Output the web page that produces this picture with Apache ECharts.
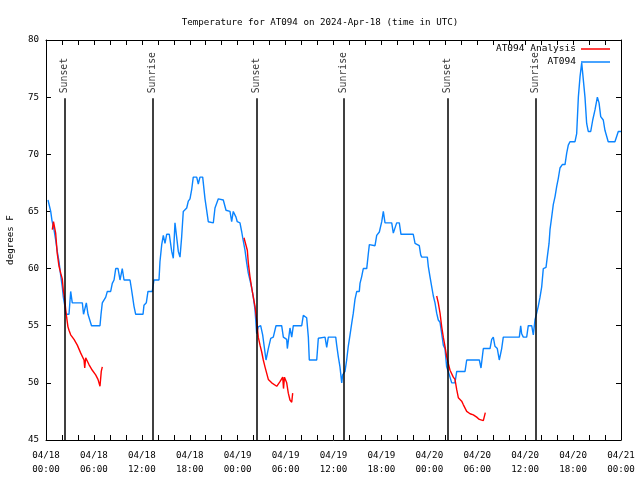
<!DOCTYPE html>
<html>
<head>
<meta charset="utf-8">
<script src="https://cdn.jsdelivr.net/npm/echarts@6/dist/echarts.min.js"></script>
<style>html,body{margin:0;padding:0;background:#fff}#c{width:640px;height:480px}</style>
</head>
<body>
<div id="c"></div>
<script>
// Hours since 2024-04-18 00:00 UTC
const obsHours = [0.25,0.59,0.75,1.00,1.21,1.41,1.63,1.84,2.04,2.17,2.34,2.47,2.69,2.88,3.09,3.29,4.55,4.70,4.88,5.05,5.26,5.45,5.70,6.76,6.89,7.05,7.48,7.68,8.10,8.30,8.52,8.73,9.02,9.27,9.55,9.77,9.98,10.52,10.68,10.81,11.02,11.23,12.15,12.27,12.56,12.77,13.31,13.52,14.15,14.27,14.49,14.69,14.90,15.11,15.44,15.74,15.94,16.15,16.37,16.57,16.78,16.99,17.19,17.62,17.82,18.03,18.24,18.44,18.87,19.07,19.28,19.62,19.91,20.12,20.32,20.95,21.16,21.58,22.20,22.54,23.04,23.25,23.45,23.79,23.95,24.29,24.51,24.63,24.92,25.13,25.33,25.54,25.76,25.96,26.17,26.38,26.58,26.88,27.13,27.55,27.84,28.14,28.46,28.80,29.51,29.72,30.14,30.22,30.55,30.77,30.97,32.02,32.22,32.43,32.64,32.85,32.97,33.90,34.10,34.31,34.94,35.15,35.35,36.28,36.40,36.60,36.81,37.03,37.15,37.44,37.65,37.85,38.07,38.28,38.48,38.69,38.91,39.23,39.32,39.53,39.73,40.16,40.36,40.49,41.20,41.41,41.74,42.04,42.24,42.45,43.29,43.49,43.70,43.91,44.24,44.45,45.99,46.21,46.74,46.92,47.05,47.75,47.87,48.08,48.30,48.50,48.71,48.92,49.12,49.34,49.55,49.75,49.96,50.17,50.37,50.59,50.80,51.21,51.43,52.47,52.68,54.26,54.47,54.76,55.60,55.81,56.01,56.22,56.51,56.76,57.06,57.26,59.27,59.44,59.56,59.77,60.19,60.39,60.82,61.02,61.23,61.44,61.64,61.86,62.07,62.27,62.61,62.77,62.99,63.11,63.32,63.52,63.74,63.95,64.15,64.36,64.65,64.99,65.20,65.40,65.61,66.24,66.45,66.66,66.87,67.08,67.28,67.49,67.70,67.90,68.21,68.46,68.75,69.04,69.25,69.46,69.78,69.99,70.40,71.24,71.66,72.00];
const obsTemps = [66.0,65.0,64.2,63.4,62.5,61.5,60.6,59.4,58.4,57.5,56.8,56.0,56.0,56.0,58.0,57.0,57.0,56.0,56.0,57.0,56.0,56.0,55.0,55.0,56.0,57.0,57.5,58.0,58.0,58.7,59.0,60.0,60.0,59.0,60.0,59.0,59.0,59.0,58.3,57.7,56.7,56.0,56.0,56.8,57.0,58.0,58.0,59.0,59.0,60.6,62.1,62.9,62.2,63.0,63.0,61.5,60.9,64.0,64.0,61.5,61.0,62.8,65.0,65.3,65.9,66.1,66.9,68.0,68.0,67.4,68.0,68.0,66.1,65.1,64.1,64.0,65.3,66.1,66.0,65.1,65.0,64.1,65.0,64.5,64.1,64.0,63.2,62.7,61.6,60.5,59.6,59.0,58.3,57.5,56.4,54.3,54.9,55.0,54.2,52.0,53.0,53.9,54.0,55.0,55.0,54.0,53.8,53.0,54.8,54.0,55.0,55.0,55.9,56.0,55.7,54.0,52.0,52.0,53.9,54.0,54.0,53.1,54.0,54.0,53.3,52.3,51.4,50.0,50.7,51.0,52.0,53.2,54.2,55.2,56.1,57.3,58.0,58.0,58.7,59.3,60.0,60.0,61.3,62.1,62.0,62.9,63.2,64.1,65.0,64.0,64.0,63.1,63.0,64.0,64.0,63.0,63.0,62.2,62.0,61.2,61.0,61.0,60.2,59.3,58.4,57.6,57.0,56.1,55.5,55.3,54.3,53.3,53.0,51.4,51.0,50.5,50.0,50.0,51.0,51.0,52.0,52.0,51.3,53.0,53.0,53.8,54.0,53.2,53.0,52.0,53.0,54.0,54.0,55.0,54.3,54.0,54.0,55.0,55.0,54.2,55.5,56.1,56.7,57.5,58.4,60.0,60.1,61.0,62.2,63.4,64.5,65.6,66.3,67.2,67.9,68.8,69.1,69.1,70.1,70.8,71.1,71.1,71.8,75.0,76.8,78.0,78.0,75.0,72.7,72.0,72.0,73.0,73.9,75.0,74.5,73.3,73.0,72.1,71.1,71.1,72.0,72.0];

const ana1Hours = [0.79,0.94,1.06,1.21,1.41,1.63,1.84,2.04,2.17,2.34,2.47,2.59,2.75,2.88,3.09,3.51,3.92,4.35,4.76,4.85,4.97,5.38,5.80,6.22,6.51,6.76,6.92,7.05];
const ana1Temps = [63.4,64.1,64.1,63.1,61.3,60.2,59.6,59.1,58.1,57.3,56.4,55.7,54.9,54.6,54.2,53.8,53.3,52.6,52.0,51.3,52.2,51.6,51.1,50.7,50.3,49.7,51.0,51.4];
const ana2Hours = [24.79,25.04,25.21,25.33,25.54,25.76,25.96,26.17,26.38,26.58,26.80,27.01,27.21,27.42,27.84,28.26,28.89,29.30,29.64,29.74,29.86,30.14,30.34,30.55,30.77,30.89];
const ana2Temps = [62.7,62.7,61.6,60.5,59.3,58.3,57.5,56.7,55.5,54.0,53.3,52.7,52.0,51.4,50.3,50.0,49.7,50.1,50.5,49.5,50.5,50.0,49.1,48.5,48.3,49.1];
const ana3Hours = [48.92,49.12,49.34,49.55,49.75,49.96,50.17,50.37,50.59,51.00,51.21,51.43,51.63,52.05,52.25,52.68,53.10,53.51,53.93,54.26,54.76,55.01];
const ana3Temps = [57.6,57.0,56.1,54.9,54.0,53.2,52.3,51.7,51.1,50.5,50.3,49.4,48.7,48.4,48.1,47.5,47.3,47.2,47.0,46.8,46.7,47.4];

const sunHours = [2.29,13.31,26.36,37.23,50.25,61.27];
const sunNames = ['Sunset','Sunrise','Sunset','Sunrise','Sunset','Sunrise'];
const sunLineTop = 74.9;
const yMin = 45, yMax = 80, yStep = 5;
const xMin = 0, xMax = 72, xStep = 2;

const FONT = "'DejaVu Sans Mono', 'Liberation Mono', monospace";
const FS = 9.2;
const zip = (a, b) => a.map((v, i) => [v, b[i]]);
const anaData = [].concat(zip(ana1Hours, ana1Temps), [[7.5, '-']], zip(ana2Hours, ana2Temps), [[31, '-']], zip(ana3Hours, ana3Temps));

function fmtX(v) {
  if (Math.round(v) % 6 !== 0) return '';
  const day = 18 + Math.floor(v / 24);
  const hr = Math.round(v) % 24;
  return '04/' + day + '\n' + String(hr).padStart(2, '0') + ':00';
}

const chart = echarts.init(document.getElementById('c'), null, {renderer: 'canvas'});
function axisCommon() {
  return {
    axisLine: {show: true, onZero: false, lineStyle: {color: '#000', width: 1}},
    axisTick: {show: true, inside: true, length: 5, lineStyle: {color: '#000'}},
    splitLine: {show: false}
  };
}
chart.setOption({
  animation: false,
  backgroundColor: '#fff',
  title: {
    text: 'Temperature for AT094 on 2024-Apr-18 (time in UTC)',
    left: 'center', top: 13,
    textStyle: {fontFamily: FONT, fontSize: FS, fontWeight: 'normal', color: '#000'}
  },
  legend: [
    {data: ['AT094 Analysis'], right: 30, top: 44, padding: 0, align: 'right', icon: 'rect', itemWidth: 29, itemHeight: 1.5,
     textStyle: {fontFamily: FONT, fontSize: 9.5, color: '#000'}, selectedMode: false},
    {data: ['AT094'], right: 30, top: 57, padding: 0, align: 'right', icon: 'rect', itemWidth: 29, itemHeight: 1.5,
     textStyle: {fontFamily: FONT, fontSize: 9.5, color: '#000'}, selectedMode: false}
  ],
  grid: {left: 46, right: 19, top: 40, bottom: 40, containLabel: false, outerBoundsMode: 'none'},
  xAxis: [
    Object.assign(axisCommon(), {type: 'value', min: xMin, max: xMax, interval: xStep, position: 'bottom',
      axisLabel: {formatter: fmtX, fontFamily: FONT, fontSize: FS, color: '#000', lineHeight: 14, margin: 9, showMinLabel: true, showMaxLabel: true}}),
    Object.assign(axisCommon(), {type: 'value', min: xMin, max: xMax, interval: xStep, position: 'top', axisLabel: {show: false}})
  ],
  yAxis: [
    Object.assign(axisCommon(), {type: 'value', min: yMin, max: yMax, interval: yStep, position: 'left',
      name: 'degrees F', nameLocation: 'middle', nameGap: 31, nameRotate: 90,
      nameTextStyle: {fontFamily: FONT, fontSize: FS, color: '#000'},
      axisLabel: {fontFamily: FONT, fontSize: FS, color: '#000', margin: 7}}),
    Object.assign(axisCommon(), {type: 'value', min: yMin, max: yMax, interval: yStep, position: 'right', axisLabel: {show: false}})
  ],
  series: [
    {
      name: 'AT094', type: 'line', data: zip(obsHours, obsTemps), symbol: 'none',
      lineStyle: {color: '#0a84ff', width: 1.4}, itemStyle: {color: '#0a84ff'}, z: 3,
      markLine: {
        silent: true, symbol: 'none', animation: false,
        lineStyle: {color: '#000', width: 1.5, type: 'solid'},
        label: {show: false},
        data: sunHours.map(h => [{coord: [h, yMin]}, {coord: [h, sunLineTop]}])
      }
    },
    {
      name: 'AT094 Analysis', type: 'line', data: anaData, symbol: 'none', connectNulls: false,
      lineStyle: {color: '#ff0000', width: 1.4}, itemStyle: {color: '#ff0000'}, z: 4
    },
    {
      name: 'sun', type: 'scatter', symbolSize: 0, silent: true,
      data: sunHours.map((h, i) => [h, sunLineTop, sunNames[i]]),
      label: {show: true, formatter: p => p.data[2], rotate: 90, position: 'top', distance: 5,
        align: 'left', verticalAlign: 'middle', fontFamily: FONT, fontSize: 9.8, color: '#000'}
    }
  ]
});
</script>
</body>
</html>
